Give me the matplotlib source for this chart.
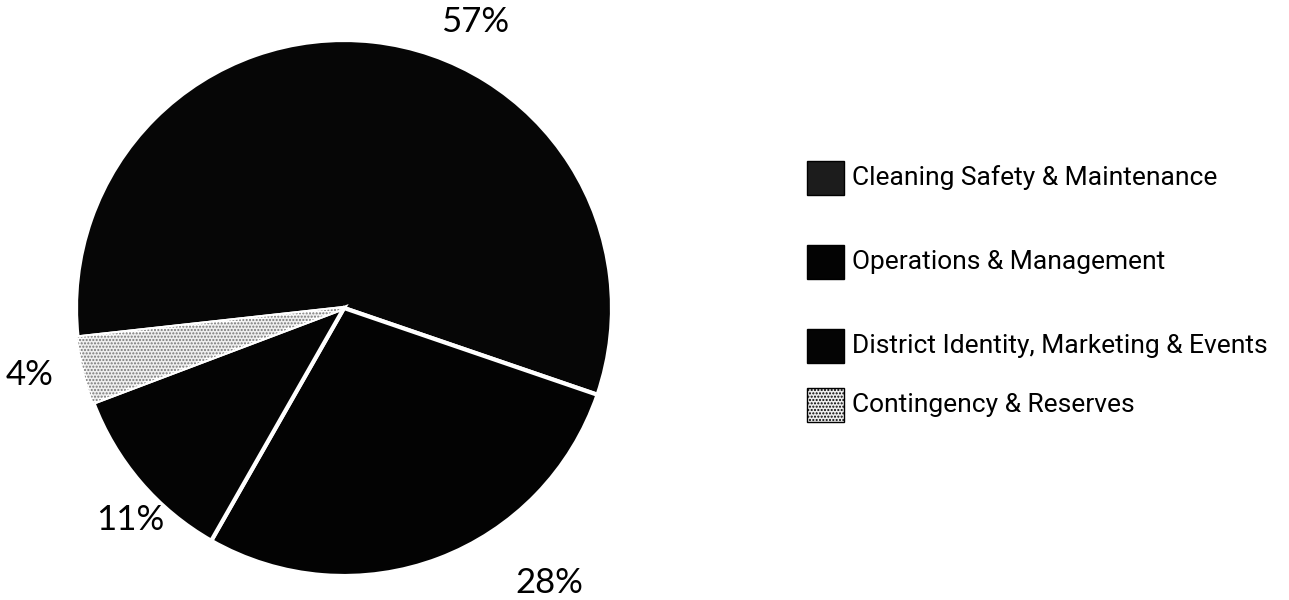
import numpy as np
import matplotlib
matplotlib.use("Agg")
import matplotlib.pyplot as plt
from matplotlib.patches import Rectangle, Wedge

# Budget shares
categories = [
    "Cleaning Safety & Maintenance",
    "Operations & Management",
    "District Identity, Marketing & Events",
    "Contingency & Reserves",
]
shares = [57, 28, 11, 4]
pct_labels = ["57%", "28%", "11%", "4%"]
colors = ["#060606", "#030303", "#040404", "#eeeeee"]

# where each % label sits: (angle in degrees, distance in radii)
label_polar = [(65.4, 1.174), (-53.2, 1.282), (-135.3, 1.124), (-168.0, 1.198)]
# legend rows (pixel y of each row centre)
legend_rows = [178, 262, 346, 405]

W, H = 1289, 600
fig = plt.figure(figsize=(W / 100, H / 100), dpi=100)
fig.patch.set_facecolor("white")

# pie axes: centre at (344, 308) px, radius 268 px
cx, cy, r = 344, 308, 268
ax = fig.add_axes([(cx - r) / W, (H - cy - r) / H, 2 * r / W, 2 * r / H])
wedges, _ = ax.pie(shares, colors=colors, startangle=186.3, counterclock=False,
                   wedgeprops=dict(edgecolor="white", linewidth=3))
ax.set_xlim(-1, 1)
ax.set_ylim(-1, 1)
ax.set_aspect("equal")
ax.axis("off")

# stipple on the contingency slice
w = wedges[3]
ax.add_patch(Wedge(w.center, w.r, w.theta1, w.theta2, facecolor="none",
                   edgecolor="#777777", linewidth=0, hatch="....."))

label_font = dict(family=["Lato", "DejaVu Sans"], fontweight="normal", fontsize=25, color="black")
for txt, (ang, dist) in zip(pct_labels, label_polar):
    a = np.deg2rad(ang)
    ax.text(dist * np.cos(a), dist * np.sin(a), txt, ha="center", va="center",
            clip_on=False, **label_font)

# legend drawn on a full-figure overlay in pixel units
lax = fig.add_axes([0, 0, 1, 1], zorder=-1)
lax.set_xlim(0, W)
lax.set_ylim(H, 0)
lax.axis("off")
for name, col, y in zip(categories, colors, legend_rows):
    face = "#1c1c1c" if col == colors[0] else col
    lax.add_patch(Rectangle((807, y - 17), 37, 34, facecolor=face, edgecolor="black",
                            linewidth=1, hatch="....." if col == colors[3] else None))
    lax.text(852, y, name, ha="left", va="center", fontsize=19,
             family=["Roboto", "DejaVu Sans"], color="black")

fig.savefig("out.png", dpi=100)
